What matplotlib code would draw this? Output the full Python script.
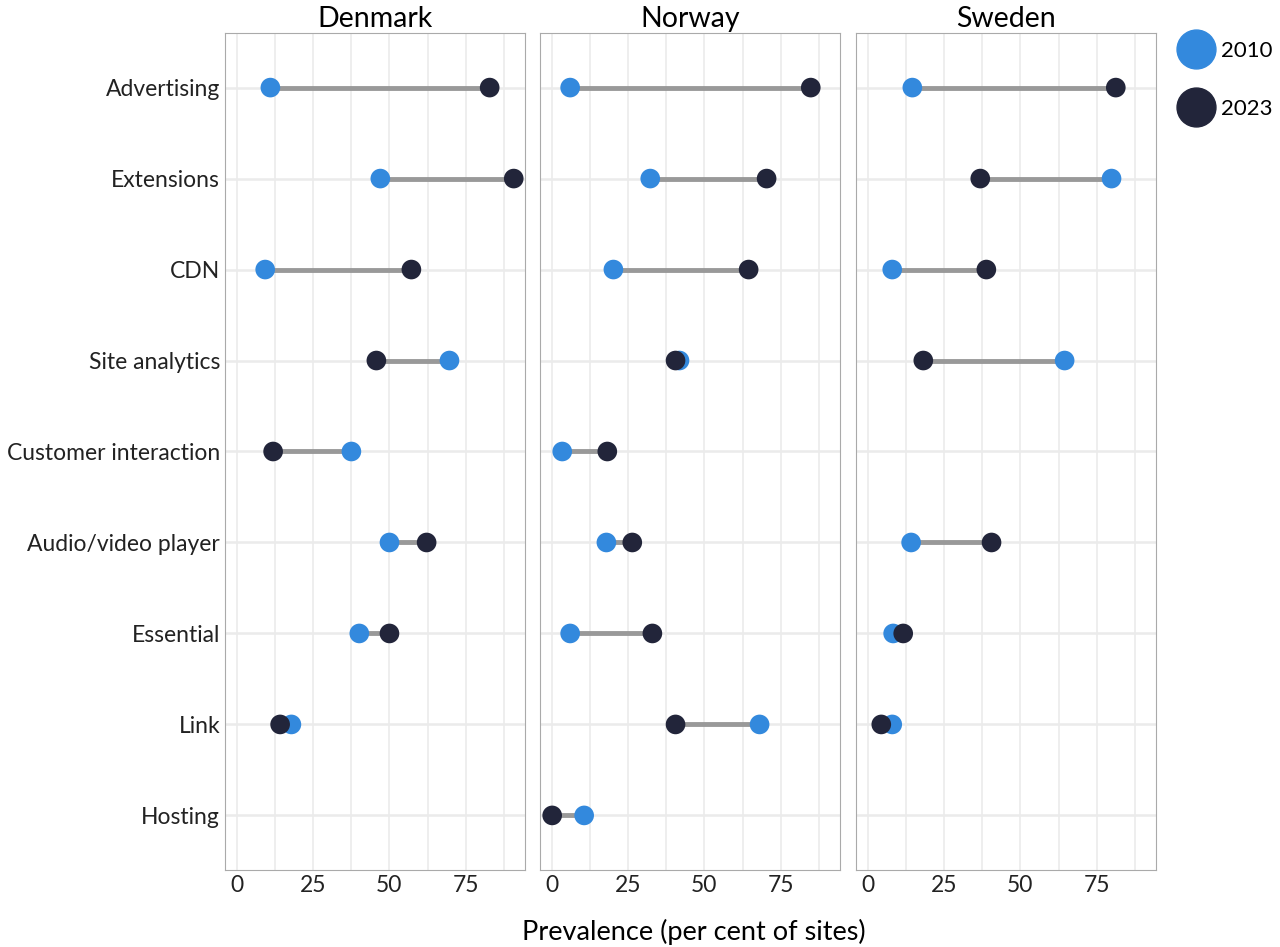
import numpy as np
import matplotlib.pyplot as plt
from matplotlib.lines import Line2D

plt.rcParams['font.family'] = ['Lato', 'DejaVu Sans']

categories = ["Advertising", "Extensions", "CDN", "Site analytics", "Customer interaction",
              "Audio/video player", "Essential", "Link", "Hosting"]
countries = ["Denmark", "Norway", "Sweden"]
nan = np.nan
v2010 = {
    "Denmark": [10.9, 47.0, 9.2, 69.7, 37.5, 50.0, 40.1, 17.8, nan],
    "Norway":  [5.9, 32.2, 20.1, 41.8, 3.3, 17.8, 5.9, 68.1, 10.5],
    "Sweden":  [14.5, 79.9, 7.9, 64.5, nan, 14.1, 8.2, 7.9, nan],
}
v2023 = {
    "Denmark": [82.9, 90.8, 57.2, 45.7, 11.8, 62.2, 50.0, 14.1, nan],
    "Norway":  [84.9, 70.4, 64.5, 40.5, 18.1, 26.3, 32.9, 40.5, 0.0],
    "Sweden":  [81.3, 36.8, 38.8, 18.1, nan, 40.5, 11.5, 4.3, nan],
}

blue = "#3389dd"
dark = "#22253a"

fig = plt.figure(figsize=(12.8, 9.47), dpi=100)
W, H = 1280, 947
lefts = [225, 540, 856]
y = np.arange(len(categories))[::-1]
for i, c in enumerate(countries):
    ax = fig.add_axes([lefts[i] / W, 1 - 870 / H, 300 / W, (870 - 33) / H])
    a, b = np.array(v2010[c]), np.array(v2023[c])
    for yy, p, q in zip(y, a, b):
        if not (np.isnan(p) or np.isnan(q)):
            ax.plot([p, q], [yy, yy], color="#999999", lw=3.5, zorder=2)
    ax.scatter(a, y, s=200, color=blue, zorder=3, edgecolors="none")
    ax.scatter(b, y, s=200, color=dark, zorder=4, edgecolors="none")
    ax.set_xlim(-4, 94.5)
    ax.set_ylim(-0.6, 8.6)
    ax.set_xticks([0, 25, 50, 75])
    ax.set_xticks([12.5, 37.5, 62.5, 87.5], minor=True)
    ax.set_yticks(y)
    ax.grid(True, which="both", axis="x", color="#ebebeb", lw=1.2)
    ax.grid(True, axis="y", color="#ebebeb", lw=1.8)
    ax.set_axisbelow(True)
    for s in ax.spines.values():
        s.set_color("#aaaaaa")
    ax.tick_params(length=0, labelsize=16.5, colors="#222222", which="both")
    ax.set_title(c, fontsize=20.5, pad=4)
    if i == 0:
        ax.set_yticklabels(categories, fontsize=16.5)
    else:
        ax.set_yticklabels([])

fig.text(694 / W, 1 - 932 / H, "Prevalence (per cent of sites)", ha="center", va="center", fontsize=19.5)
handles = [Line2D([], [], marker="o", ls="none", color=blue, markersize=28, label="2010"),
           Line2D([], [], marker="o", ls="none", color=dark, markersize=28, label="2023")]
fig.legend(handles=handles, loc="upper left", bbox_to_anchor=(1165 / W, 1 - 32 / H), frameon=False,
           fontsize=16, handletextpad=0.1, labelspacing=1.7, borderaxespad=0)
fig.savefig("out.png", dpi=100)
